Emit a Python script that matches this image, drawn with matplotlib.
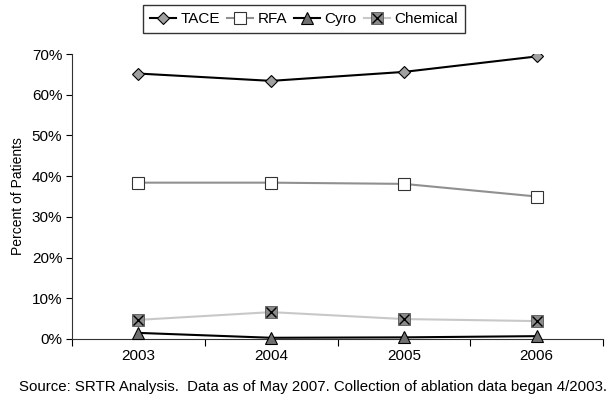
import matplotlib.pyplot as plt
from matplotlib.legend_handler import HandlerTuple
from matplotlib.ticker import FuncFormatter

plt.rcParams["font.family"] = ["Liberation Sans", "DejaVu Sans"]

years = ["2003", "2004", "2005", "2006"]
tace = [65.2, 63.4, 65.6, 69.4]
rfa = [38.4, 38.4, 38.1, 35.0]
cyro = [1.5, 0.3, 0.4, 0.7]
chemical = [4.7, 6.6, 4.9, 4.4]

fig = plt.figure(figsize=(6.11, 4.01), dpi=100)
ax = fig.add_axes([72 / 611, 1 - 339 / 401, 531 / 611, 285 / 401])

x = range(len(years))

h_tace, = ax.plot(x, tace, color="black", lw=1.5, marker="D", ms=6,
                  mfc="#a0a0a0", mec="black", mew=0.8, zorder=4)
h_rfa, = ax.plot(x, rfa, color="#909090", lw=1.5, marker="s", ms=8,
                 mfc="white", mec="#333333", mew=0.8, zorder=3)
h_chem_sq, = ax.plot(x, chemical, color="#c8c8c8", lw=1.5, marker="s", ms=8,
                     mfc="#8a8a8a", mec="#555555", mew=0.6, zorder=3)
h_chem_x, = ax.plot(x, chemical, color="none", lw=0, marker="x", ms=7,
                    mec="black", mew=1.0, zorder=3.5)
h_cyro, = ax.plot(x, cyro, color="black", lw=1.5, marker="^", ms=8,
                  mfc="#707070", mec="black", mew=0.8, zorder=5, clip_on=False)

ax.set_xlim(-0.5, 3.5)
ax.set_ylim(0, 70)
ax.set_xticks([-0.5, 0.5, 1.5, 2.5, 3.5])
ax.set_xticklabels([])
ax.set_xticks(list(x), labels=years, minor=True)
ax.tick_params(axis="x", which="minor", length=0, pad=7, labelsize=11)
ax.tick_params(axis="x", which="major", length=5, direction="out")
ax.set_yticks(range(0, 71, 10))
ax.yaxis.set_major_formatter(FuncFormatter(lambda v, p: f"{v:.0f}%"))
ax.tick_params(axis="y", length=4, direction="out", labelsize=11, pad=3)

for side in ("top", "right"):
    ax.spines[side].set_visible(False)
ax.spines["left"].set_color("#333333")
ax.spines["bottom"].set_color("#333333")

ax.set_ylabel("Percent of Patients", fontsize=10, labelpad=5)

leg = fig.legend(
    [h_tace, h_rfa, h_cyro, (h_chem_sq, h_chem_x)],
    ["TACE", "RFA", "Cyro", "Chemical"],
    handler_map={tuple: HandlerTuple(ndivide=1, pad=0)},
    loc="upper center", bbox_to_anchor=(304 / 611, 1 - 5 / 401),
    ncol=4, frameon=True, fancybox=False, edgecolor="black",
    fontsize=11, handlelength=1.7, handletextpad=0.3, columnspacing=0.45,
    borderpad=0.45, borderaxespad=0,
)
leg.get_frame().set_linewidth(1.0)

fig.text(313 / 611, 1 - 387 / 401,
         "Source: SRTR Analysis.  Data as of May 2007. Collection of ablation data began 4/2003.",
         ha="center", va="center", fontsize=10.8)

fig.savefig("out.png", dpi=100)
